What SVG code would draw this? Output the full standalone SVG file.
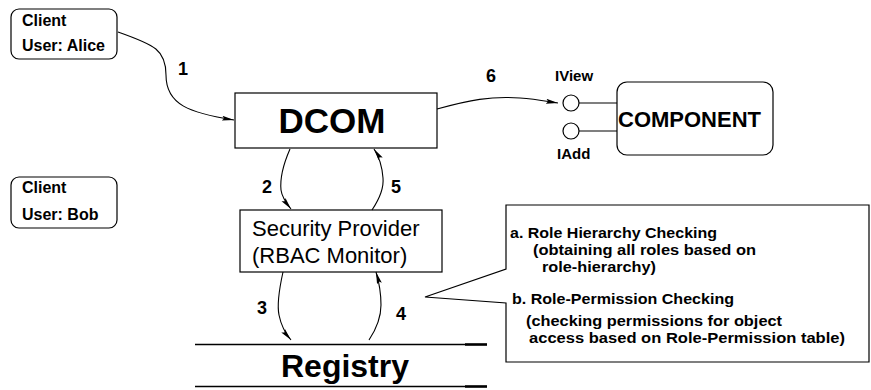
<svg xmlns="http://www.w3.org/2000/svg" width="871" height="390" viewBox="0 0 871 390">
  <style>
    .box { fill: #fff; stroke: #000; stroke-width: 1.2; }
    .wire { fill: none; stroke: #000; stroke-width: 1.1; }
    .b { font-family: "Liberation Sans", Arial, sans-serif; font-weight: bold; fill: #000; }
    .r { font-family: "Liberation Sans", Arial, sans-serif; fill: #000; }
    .num { font-size: 18px; }
    .client { font-size: 16px; }
    .note { font-size: 15px; }
  </style>
  <defs>
    <marker id="arrow" markerUnits="userSpaceOnUse" markerWidth="14" markerHeight="10" refX="12" refY="4" orient="auto">
      <path d="M0,1.5 L12,4 L0,6.5 L2,4 Z" fill="#000"/>
    </marker>
  </defs>

  <rect width="871" height="390" fill="#fff"/>

  <!-- clients -->
  <g id="client-alice">
    <rect class="box" x="11" y="9" width="106" height="50" rx="8"/>
    <text class="b client" x="22" y="26">Client</text>
    <text class="b client" x="22" y="51">User: Alice</text>
  </g>
  <g id="client-bob">
    <rect class="box" x="11" y="177" width="106" height="51" rx="8"/>
    <text class="b client" x="22" y="193">Client</text>
    <text class="b client" x="22" y="220">User: Bob</text>
  </g>

  <!-- DCOM -->
  <g id="dcom">
    <rect class="box" x="235" y="93" width="202" height="55"/>
    <text class="b" x="332" y="133" font-size="35" text-anchor="middle">DCOM</text>
  </g>

  <!-- security provider -->
  <g id="security-provider">
    <rect class="box" x="240" y="210" width="202" height="62"/>
    <text class="r" x="252" y="236" font-size="22">Security Provider</text>
    <text class="r" x="252" y="263" font-size="22">(RBAC Monitor)</text>
  </g>

  <!-- registry -->
  <g id="registry">
    <line x1="195" y1="344.5" x2="487" y2="344.5" stroke="#000" stroke-width="1.5"/>
    <line x1="465" y1="344.5" x2="487" y2="344.5" stroke="#000" stroke-width="2.5"/>
    <line x1="195" y1="386.5" x2="487" y2="386.5" stroke="#000" stroke-width="1.5"/>
    <line x1="465" y1="386.5" x2="487" y2="386.5" stroke="#000" stroke-width="2.5"/>
    <text class="b" x="345" y="377" font-size="32" text-anchor="middle">Registry</text>
  </g>

  <!-- component with its interfaces -->
  <g id="component">
    <rect class="box" x="617" y="82" width="156" height="73" rx="10"/>
    <text class="b" x="618" y="127" font-size="22">COMPONENT</text>
  </g>
  <g id="iview">
    <line x1="579" y1="103" x2="617" y2="103" stroke="#000" stroke-width="1.2"/>
    <circle class="box" cx="571" cy="103" r="8"/>
    <text class="b" x="555" y="81" font-size="15">IView</text>
  </g>
  <g id="iadd">
    <line x1="579" y1="131" x2="617" y2="131" stroke="#000" stroke-width="1.2"/>
    <circle class="box" cx="571" cy="131" r="8"/>
    <text class="b" x="557" y="159" font-size="15">IAdd</text>
  </g>

  <!-- checking note: narrow bold lines, stretched to their set widths -->
  <g id="checking-note">
    <path class="box" d="M506,205 H869 V362 H506 V303 L425,297 L506,269 Z"/>
    <text class="b note" x="510" y="238" textLength="207" lengthAdjust="spacingAndGlyphs">a. Role Hierarchy Checking</text>
    <text class="b note" x="533" y="255" textLength="223" lengthAdjust="spacingAndGlyphs">(obtaining all roles based on</text>
    <text class="b note" x="542" y="272" textLength="114" lengthAdjust="spacingAndGlyphs">role-hierarchy)</text>
    <text class="b note" x="512" y="304" textLength="222" lengthAdjust="spacingAndGlyphs">b. Role-Permission Checking</text>
    <text class="b note" x="526" y="326" textLength="256" lengthAdjust="spacingAndGlyphs">(checking permissions for object</text>
    <text class="b note" x="529" y="343" textLength="316" lengthAdjust="spacingAndGlyphs">access based on Role-Permission table)</text>
  </g>

  <!-- connectors -->
  <g id="connectors">
    <path class="wire" marker-end="url(#arrow)" d="M118,32 C155,45 166,50 166,75 C166,105 190,113 234,120"/>
    <path class="wire" marker-end="url(#arrow)" d="M437,109 C470,100 490,96 520,98 C535,99 545,101 558,103"/>
    <path class="wire" marker-end="url(#arrow)" d="M290,149 C283,165 280,180 281,190 C282,198 287,204 291,209"/>
    <path class="wire" marker-end="url(#arrow)" d="M372,210 C380,198 384,188 383,178 C382,165 378,155 374,149"/>
    <path class="wire" marker-end="url(#arrow)" d="M283,272 C279,290 277,305 279,315 C281,325 285,333 291,340"/>
    <path class="wire" marker-end="url(#arrow)" d="M369,340 C377,328 381,318 381,305 C381,292 379,282 376,272"/>
    <text class="b num" x="178" y="75">1</text>
    <text class="b num" x="262" y="193">2</text>
    <text class="b num" x="257" y="314">3</text>
    <text class="b num" x="396" y="320">4</text>
    <text class="b num" x="391" y="193">5</text>
    <text class="b num" x="486" y="82">6</text>
  </g>
</svg>
